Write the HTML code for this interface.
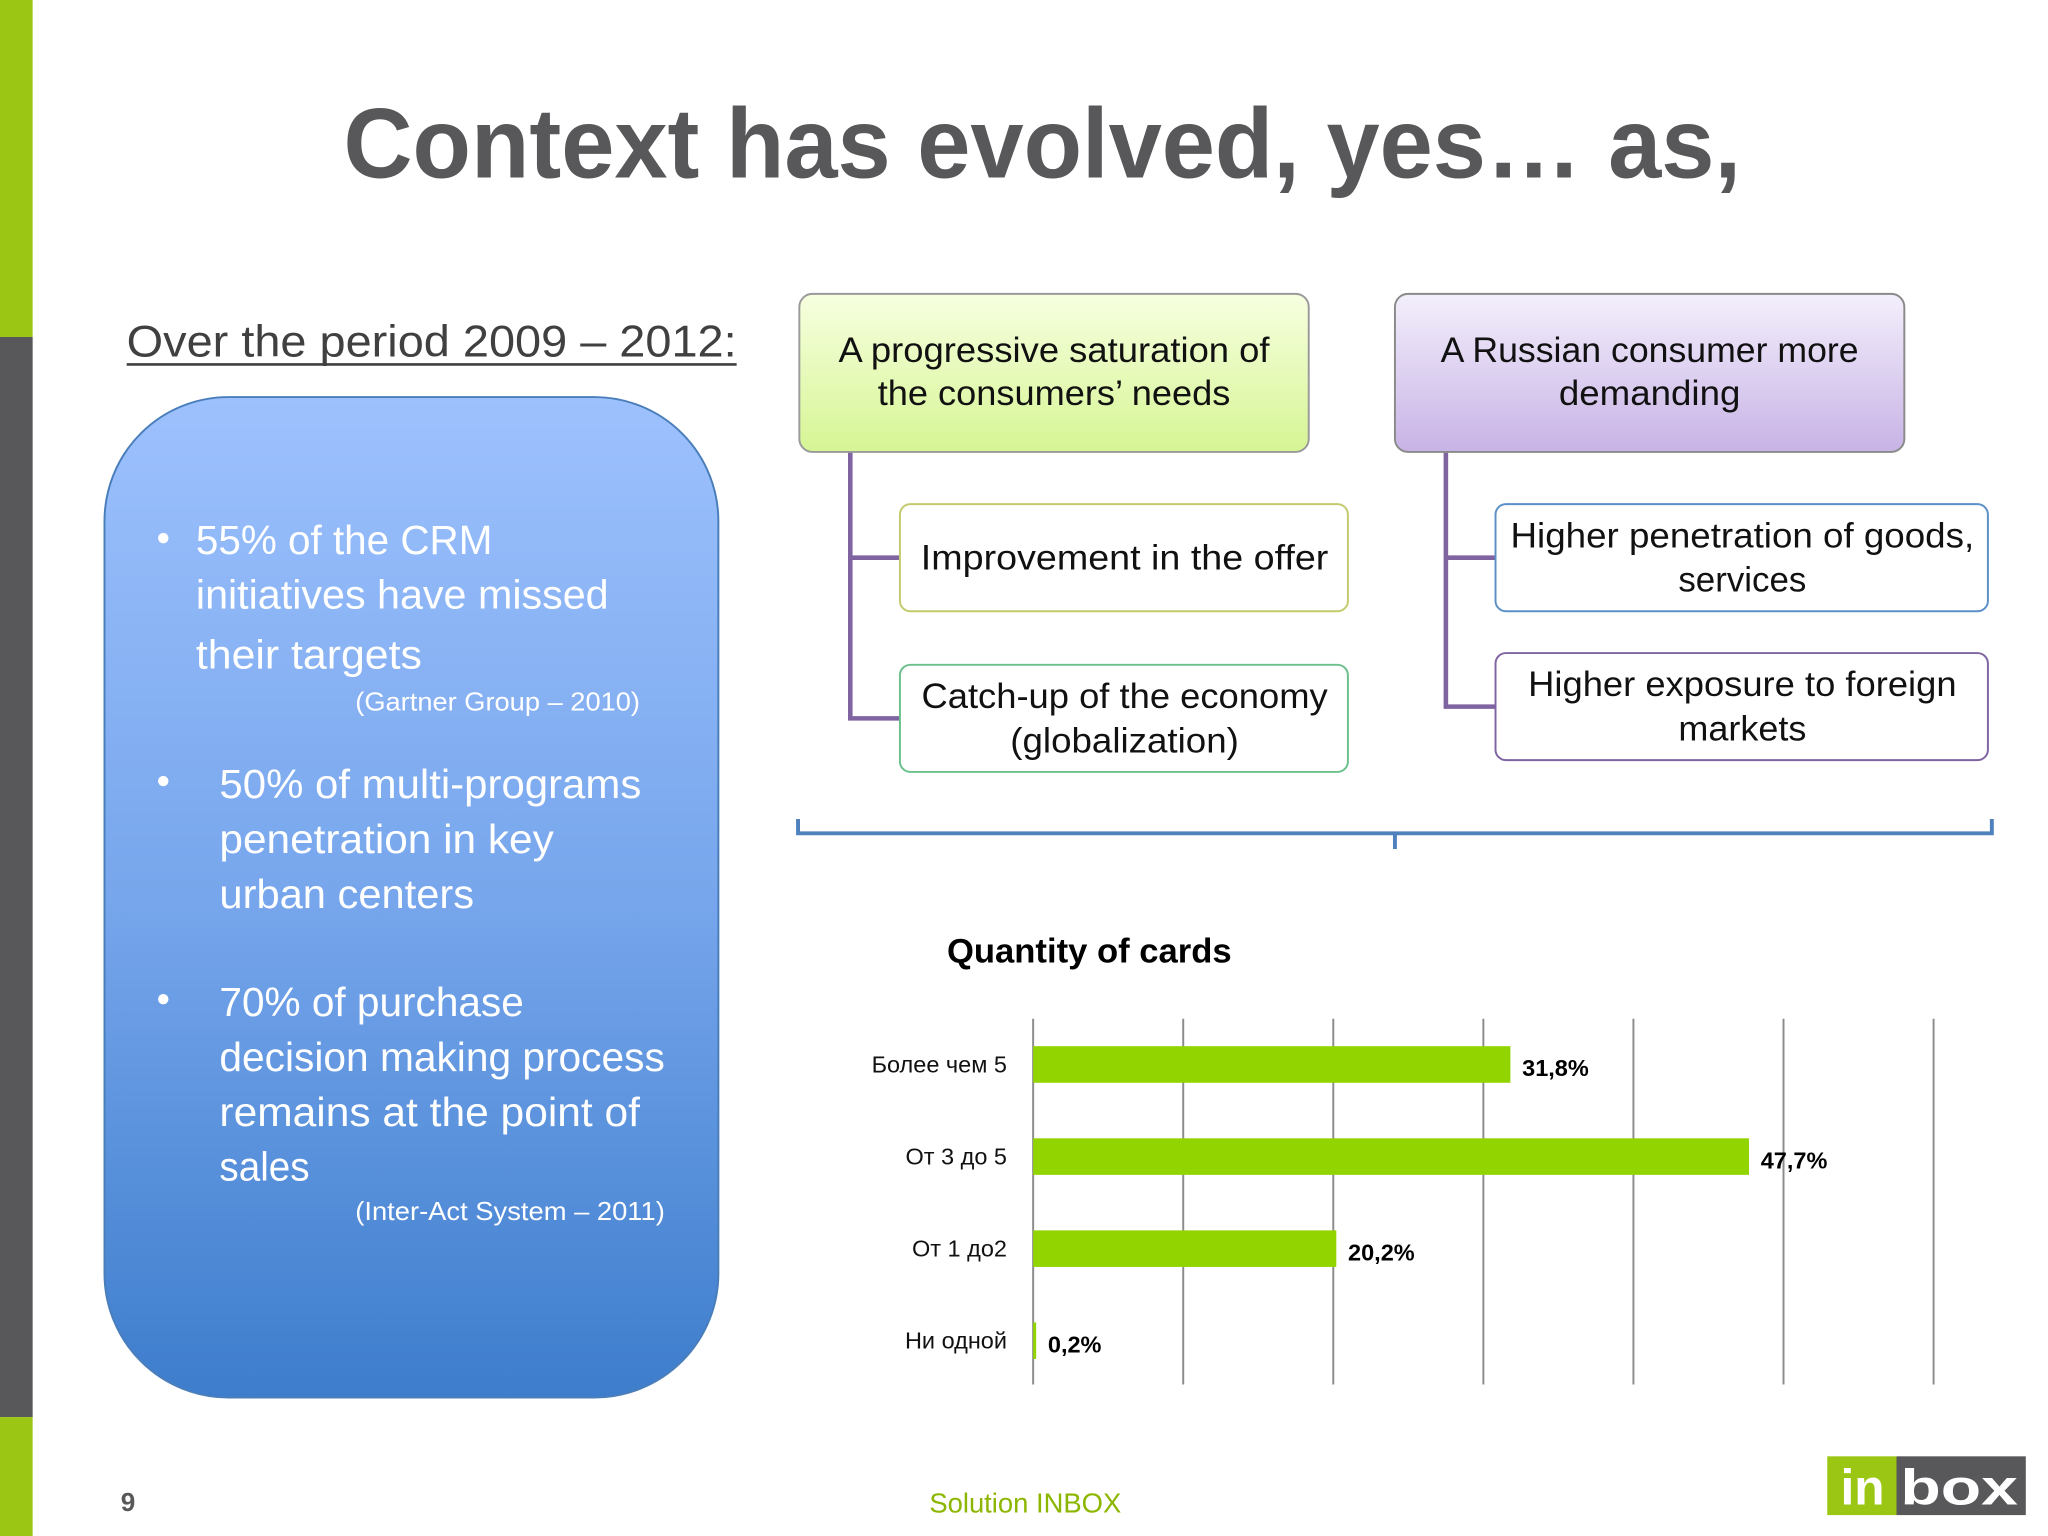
<!DOCTYPE html>
<html><head><meta charset="utf-8"><style>
html,body{margin:0;padding:0;background:#fff;overflow:hidden}
svg{display:block}
text{font-family:"Liberation Sans","DejaVu Sans",sans-serif}
</style></head><body>
<svg width="2048" height="1536" viewBox="0 0 1568 1176" xmlns="http://www.w3.org/2000/svg">
<defs>
<linearGradient id="gBlue" x1="0" y1="0" x2="0" y2="1"><stop offset="0" stop-color="#9dc1fd"/><stop offset="0.5" stop-color="#77a6ec"/><stop offset="1" stop-color="#3d7dcc"/></linearGradient>
<linearGradient id="gGreen" x1="0" y1="0" x2="0" y2="1"><stop offset="0" stop-color="#f7ffe0"/><stop offset="1" stop-color="#d6f594"/></linearGradient>
<linearGradient id="gPurple" x1="0" y1="0" x2="0" y2="1"><stop offset="0" stop-color="#f3effb"/><stop offset="1" stop-color="#c8b3e6"/></linearGradient>
</defs>
<rect x="0" y="0" width="25" height="258" fill="#9bc613"/>
<rect x="0" y="258" width="25" height="827" fill="#58585a"/>
<rect x="0" y="1085" width="25" height="91" fill="#9bc613"/>

<text x="798" y="136" text-anchor="middle" font-size="76" font-weight="bold" fill="#58585a" textLength="1070" lengthAdjust="spacingAndGlyphs">Context has evolved, yes… as,</text>

<text x="97" y="273" font-size="34" fill="#404040" textLength="467" lengthAdjust="spacingAndGlyphs">Over the period 2009 – 2012:</text>
<line x1="97" y1="279" x2="564" y2="279" stroke="#404040" stroke-width="2"/>

<g>
<rect x="80" y="304" width="470" height="766" rx="95" fill="url(#gBlue)" stroke="#4a7ebb" stroke-width="1.5"/>
<g fill="#fff" font-size="31">
<circle cx="125" cy="412" r="4"/>
<text x="150" y="424" textLength="227" lengthAdjust="spacingAndGlyphs">55% of the CRM</text>
<text x="150" y="466" textLength="316" lengthAdjust="spacingAndGlyphs">initiatives have missed</text>
<text x="150" y="512" textLength="173" lengthAdjust="spacingAndGlyphs">their targets</text>
<text x="272" y="544" font-size="20" textLength="218" lengthAdjust="spacingAndGlyphs">(Gartner Group – 2010)</text>
<circle cx="125" cy="598" r="4"/>
<text x="168" y="611" textLength="323" lengthAdjust="spacingAndGlyphs">50% of multi-programs</text>
<text x="168" y="653" textLength="256" lengthAdjust="spacingAndGlyphs">penetration in key</text>
<text x="168" y="695" textLength="195" lengthAdjust="spacingAndGlyphs">urban centers</text>
<circle cx="125" cy="765" r="4"/>
<text x="168" y="778" textLength="233" lengthAdjust="spacingAndGlyphs">70% of purchase</text>
<text x="168" y="820" textLength="341" lengthAdjust="spacingAndGlyphs">decision making process</text>
<text x="168" y="862" textLength="322" lengthAdjust="spacingAndGlyphs">remains at the point of</text>
<text x="168" y="904" textLength="69" lengthAdjust="spacingAndGlyphs">sales</text>
<text x="272" y="934" font-size="20" textLength="237" lengthAdjust="spacingAndGlyphs">(Inter-Act System – 2011)</text>
</g></g>

<g stroke="#8064a2" stroke-width="3.5" fill="none">
<path d="M651 346 V550 H690 M651 427 H690"/>
<path d="M1107 346 V541 H1146 M1107 427 H1146"/>
</g>

<g>
<rect x="612" y="225" width="390" height="121" rx="10" fill="url(#gGreen)" stroke="#9a9a9a" stroke-width="1.5"/>
<text x="807" y="277" text-anchor="middle" font-size="27" fill="#111" textLength="330" lengthAdjust="spacingAndGlyphs">A progressive saturation of</text>
<text x="807" y="310" text-anchor="middle" font-size="27" fill="#111" textLength="270" lengthAdjust="spacingAndGlyphs">the consumers’ needs</text>
</g>
<g>
<rect x="1068" y="225" width="390" height="121" rx="10" fill="url(#gPurple)" stroke="#8a8a8a" stroke-width="1.5"/>
<text x="1263" y="277" text-anchor="middle" font-size="27" fill="#111" textLength="320" lengthAdjust="spacingAndGlyphs">A Russian consumer more</text>
<text x="1263" y="310" text-anchor="middle" font-size="27" fill="#111" textLength="139" lengthAdjust="spacingAndGlyphs">demanding</text>
</g>
<g>
<rect x="689" y="386" width="343" height="82" rx="8" fill="#fff" stroke="#c4ca6c" stroke-width="1.5"/>
<text x="861" y="436" text-anchor="middle" font-size="27" fill="#111" textLength="312" lengthAdjust="spacingAndGlyphs">Improvement in the offer</text>
</g>
<g>
<rect x="689" y="509" width="343" height="82" rx="8" fill="#fff" stroke="#6cc08b" stroke-width="1.5"/>
<text x="861" y="542" text-anchor="middle" font-size="27" fill="#111" textLength="311" lengthAdjust="spacingAndGlyphs">Catch-up of the economy</text>
<text x="861" y="576" text-anchor="middle" font-size="27" fill="#111" textLength="175" lengthAdjust="spacingAndGlyphs">(globalization)</text>
</g>
<g>
<rect x="1145" y="386" width="377" height="82" rx="8" fill="#fff" stroke="#5b8fc7" stroke-width="1.5"/>
<text x="1334" y="419" text-anchor="middle" font-size="27" fill="#111" textLength="355" lengthAdjust="spacingAndGlyphs">Higher penetration of goods,</text>
<text x="1334" y="453" text-anchor="middle" font-size="27" fill="#111" textLength="98" lengthAdjust="spacingAndGlyphs">services</text>
</g>
<g>
<rect x="1145" y="500" width="377" height="82" rx="8" fill="#fff" stroke="#8064a2" stroke-width="1.5"/>
<text x="1334" y="533" text-anchor="middle" font-size="27" fill="#111" textLength="328" lengthAdjust="spacingAndGlyphs">Higher exposure to foreign</text>
<text x="1334" y="567" text-anchor="middle" font-size="27" fill="#111" textLength="98" lengthAdjust="spacingAndGlyphs">markets</text>
</g>

<path d="M611 627 V638 H1068 V650 M1068 638 H1525 V627" fill="none" stroke="#4f81bd" stroke-width="3"/>

<text x="834" y="737" text-anchor="middle" font-size="26" font-weight="bold" fill="#000" textLength="218" lengthAdjust="spacingAndGlyphs">Quantity of cards</text>
<g id="chart"></g>

<text x="98" y="1157" text-anchor="middle" font-size="20" font-weight="bold" fill="#58585a">9</text>
<text x="785" y="1158" text-anchor="middle" font-size="21" fill="#8db600">Solution INBOX</text>
<g>
<rect x="1399" y="1115" width="53" height="45" fill="#9bc613"/>
<rect x="1452" y="1115" width="99" height="45" fill="#58585a"/>
<text x="1426" y="1152" text-anchor="middle" font-size="38" font-weight="bold" fill="#fff">in</text>
<text x="1500" y="1152" text-anchor="middle" font-size="38" font-weight="bold" fill="#fff" textLength="90" lengthAdjust="spacingAndGlyphs">box</text>
</g>
</svg>
<script>
const categories = ["Более чем 5", "От 3 до 5", "От 1 до2", "Ни одной"];
const values = [31.8, 47.7, 20.2, 0.2];
const valueLabels = ["31,8%", "47,7%", "20,2%", "0,2%"];
const gridTicks = [0, 10, 20, 30, 40, 50, 60];
const NS = "http://www.w3.org/2000/svg";
const g = document.getElementById("chart");
const x0 = 791, pxPerUnit = 11.49, yTop = 780, yBottom = 1060, firstRow = 815, rowStep = 70.5, barH = 28;
function xScale(v){ return x0 + v * pxPerUnit; }
function yScale(i){ return firstRow + i * rowStep; }
function mk(tag, attrs){ const e = document.createElementNS(NS, tag); for (const k in attrs) e.setAttribute(k, attrs[k]); return e; }
gridTicks.forEach(t => {
  const l = mk("line", {x1: xScale(t), x2: xScale(t), y1: yTop, y2: yBottom, stroke: "#8c8c8c", "stroke-width": 1.5});
  
  
  g.appendChild(l);
});
categories.forEach((c, i) => {
  const cy = yScale(i);
  const w = Math.max(xScale(values[i]) - x0, 1.5);
  const r = mk("rect", {x: x0, y: cy - barH/2, width: w, height: barH, fill: "#92d400"});
  
  
  g.appendChild(r);
  const lab = mk("text", {x: 771, y: cy + 6, "text-anchor": "end", "font-size": 18, fill: "#111"});
  lab.textContent = c;
  
  
  g.appendChild(lab);
  const vl = mk("text", {x: x0 + w + 9, y: cy + 9, "font-size": 18, "font-weight": "bold", fill: "#000"});
  vl.textContent = valueLabels[i];
  
  
  g.appendChild(vl);
});
</script>
</body></html>
